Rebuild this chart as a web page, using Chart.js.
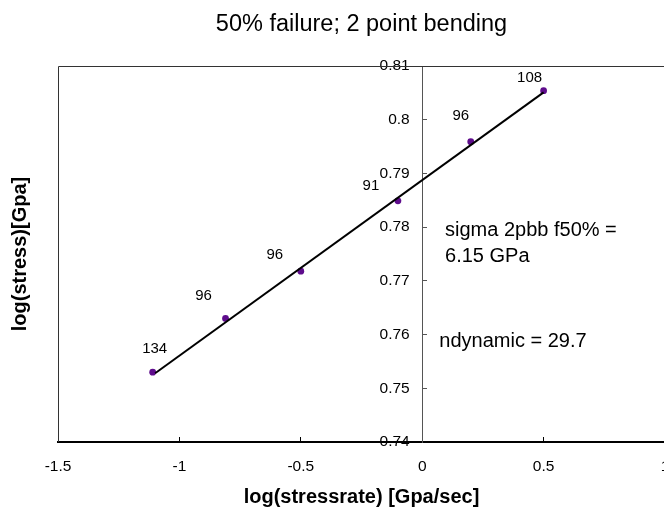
<!DOCTYPE html>
<html><head><meta charset="utf-8">
<script src="https://cdn.jsdelivr.net/npm/chart.js@4/dist/chart.umd.min.js"></script>
<style>
html,body{margin:0;padding:0;overflow:hidden;background:#fff;width:664px;height:509px}
#wrap{position:relative;width:695px;height:509px}
canvas{display:block}
</style></head><body>
<div id="wrap"><canvas id="c" width="695" height="509"></canvas></div>
<script>
// ---- data ----
const xValues = [-1.11, -0.81, -0.50, -0.10, 0.20, 0.50];
const yValues = [0.7530, 0.7630, 0.7718, 0.7849, 0.7959, 0.8054];
const pointLabels = ['134', '96', '96', '91', '96', '108'];
const trendX = [-1.10, 0.50];
const trendY = [0.7528, 0.8051];
const xTickLabels = ['-1.5', '-1', '-0.5', '0', '0.5', '1'];
const yTickLabels = ['0.74', '0.75', '0.76', '0.77', '0.78', '0.79', '0.8', '0.81'];
const noteLines = ['sigma 2pbb f50% =', '6.15 GPa', 'ndynamic = 29.7'];
const chartTitle = '50% failure; 2 point bending';
const xTitle = 'log(stressrate) [Gpa/sec]';
const yTitle = 'log(stress)[Gpa]';

const FONT = "'Liberation Sans', Arial, Helvetica, sans-serif";
const pts = xValues.map((x, i) => ({x, y: yValues[i]}));
const trend = trendX.map((x, i) => ({x, y: trendY[i]}));

// label offsets (pixels, relative to each point) and note anchors (data coords)
const labelOffsets = [[2,-23],[-22,-23],[-26,-16],[-27,-15],[-10,-26],[-14,-13]];
const noteAnchors = [[0.094,0.7784],[0.094,0.7735],[0.0705,0.7577]];

const extras = {
  id: 'extras',
  beforeDraw(chart) {
    const ctx = chart.ctx;
    ctx.save();
    ctx.fillStyle = '#fff';
    ctx.fillRect(0, 0, chart.width, chart.height);
    ctx.restore();
  },
  beforeDatasetsDraw(chart) {
    const {ctx, chartArea: a} = chart;
    const xs = chart.scales.x, ys = chart.scales.y;
    ctx.save();
    // y tick labels, left of the axis that crosses at x = 0
    ctx.fillStyle = '#000';
    ctx.font = '15.5px ' + FONT;
    ctx.textAlign = 'right';
    ctx.textBaseline = 'middle';
    const ax = xs.getPixelForValue(0);
    ys.ticks.forEach((t, i) => {
      ctx.fillText(yTickLabels[i], ax - 12.5, ys.getPixelForValue(t.value));
    });
    // plot-area frame
    ctx.strokeStyle = '#333';
    ctx.lineWidth = 1;
    ctx.beginPath();
    ctx.moveTo(Math.round(a.left) + 0.5, Math.round(a.bottom));
    ctx.lineTo(Math.round(a.left) + 0.5, Math.round(a.top) + 0.5);
    ctx.lineTo(Math.round(a.right) + 0.5, Math.round(a.top) + 0.5);
    ctx.lineTo(Math.round(a.right) + 0.5, Math.round(a.bottom));
    ctx.stroke();
    ctx.restore();
  },
  afterDraw(chart) {
    const {ctx, chartArea: a} = chart;
    const xs = chart.scales.x, ys = chart.scales.y;
    ctx.save();
    ctx.fillStyle = '#000';
    // data labels
    ctx.font = '15px ' + FONT;
    ctx.textAlign = 'center';
    ctx.textBaseline = 'middle';
    pts.forEach((p, i) => {
      const px = xs.getPixelForValue(p.x) + labelOffsets[i][0];
      const py = ys.getPixelForValue(p.y) + labelOffsets[i][1];
      ctx.fillText(pointLabels[i], px, py);
    });
    // notes
    ctx.font = '20px ' + FONT;
    ctx.textAlign = 'left';
    ctx.textBaseline = 'alphabetic';
    noteLines.forEach((t, i) => {
      ctx.fillText(t, xs.getPixelForValue(noteAnchors[i][0]), ys.getPixelForValue(noteAnchors[i][1]));
    });
    // y title
    ctx.font = 'bold 20px ' + FONT;
    ctx.textAlign = 'center';
    ctx.textBaseline = 'middle';
    ctx.translate(a.left - 38, (a.top + a.bottom) / 2);
    ctx.rotate(-Math.PI / 2);
    ctx.fillText(yTitle, 0, 0);
    ctx.restore();
  }
};

new Chart(document.getElementById('c'), {
  type: 'scatter',
  data: {
    datasets: [
      {
        label: 'trend', data: trend, showLine: true,
        borderColor: '#000', borderWidth: 2, pointRadius: 0, fill: false
      },
      {
        label: 'data', data: pts,
        pointRadius: 3.4, pointBackgroundColor: '#5E0C8C', pointBorderColor: '#5E0C8C', pointBorderWidth: 0
      }
    ]
  },
  options: {
    responsive: false,
    animation: false,
    events: [],
    layout: {padding: {left: 58, right: 30, top: 0, bottom: 0}},
    plugins: {
      legend: {display: false},
      tooltip: {enabled: false},
      title: {
        display: true, text: chartTitle, color: '#000',
        font: {family: FONT, size: 23.5, weight: 'normal', lineHeight: 1.2},
        padding: {top: 10.4, bottom: 27.4}
      }
    },
    scales: {
      x: {
        type: 'linear', min: -1.5, max: 1,
        afterFit: s => { s.height = 67; },
        ticks: {
          stepSize: 0.5, color: '#000', padding: 20.7, maxRotation: 0, autoSkip: false,
          font: {family: FONT, size: 15.5},
          callback: (v, i) => xTickLabels[i]
        },
        grid: {drawOnChartArea: false, drawTicks: true, tickLength: -5, color: '#000'},
        border: {display: true, color: '#000', width: 2},
        title: {
          display: true, text: xTitle, color: '#000',
          font: {family: FONT, size: 20, weight: 'bold', lineHeight: 1.2},
          padding: {top: 0, bottom: 0}
        }
      },
      y: {
        type: 'linear', min: 0.74, max: 0.81, position: {x: 0},
        ticks: {
          stepSize: 0.01, display: false,
          font: {family: FONT, size: 15.5}
        },
        grid: {drawOnChartArea: false, drawTicks: true, tickLength: -5, color: '#555'},
        border: {display: true, color: '#555', width: 1},
        title: {display: false}
      }
    }
  },
  plugins: [extras]
});
</script>
</body></html>
